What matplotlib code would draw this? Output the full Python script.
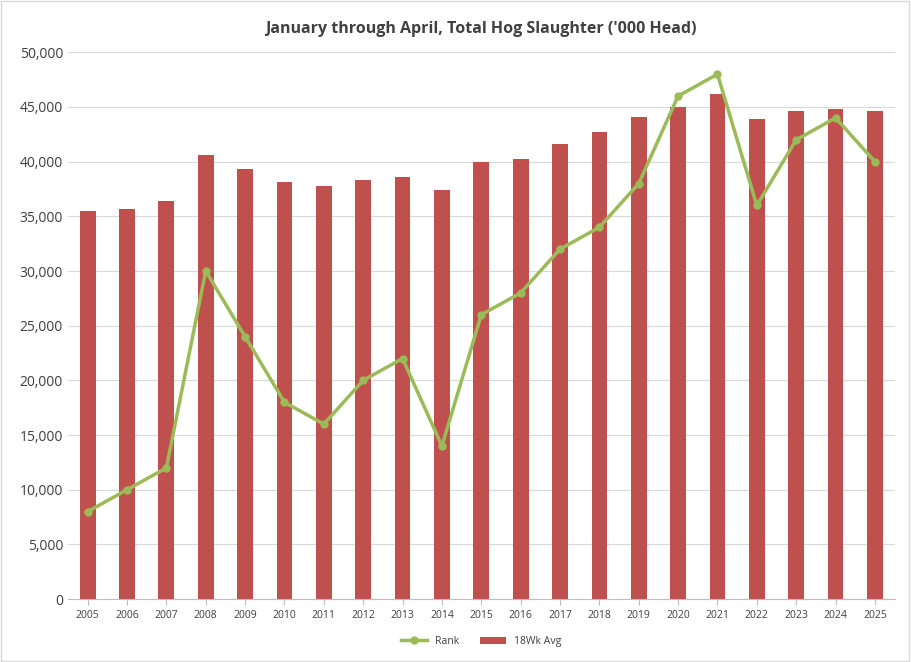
import matplotlib
matplotlib.use("Agg")
import matplotlib.pyplot as plt
from matplotlib.patches import Rectangle

years = [str(y) for y in range(2005, 2026)]
avg18 = [35500, 35700, 36400, 40600, 39300, 38100, 37800, 38300, 38600, 37400,
         40000, 40200, 41600, 42700, 44100, 45000, 46200, 43900, 44600, 44800, 44600]
rank = [8000, 10000, 12000, 30000, 24000, 18000, 16000, 20000, 22000, 14000,
        26000, 28000, 32000, 34000, 38000, 46000, 48000, 36000, 42000, 44000, 40000]

plt.rcParams["font.family"] = "Open Sans"
fig = plt.figure(figsize=(9.11, 6.62), dpi=100)
ax = fig.add_axes([0.0746, 0.095, 0.9074, 0.826])
x = range(len(years))
ax.bar(x, avg18, width=0.4, color="#C0504D", label="18Wk Avg", zorder=2)
ax.plot(x, rank, color="#9BBB59", lw=2.5, marker="o", ms=5, label="Rank", zorder=3)
ax.set_xlim(-0.5, len(years) - 0.5)
ax.set_ylim(0, 50000)
ax.set_yticks(range(0, 50001, 5000))
ax.set_yticklabels([f"{v:,}" for v in range(0, 50001, 5000)], fontsize=10, color="#404040")
ax.set_xticks(list(x))
ax.set_xticklabels(years, fontsize=7.5, color="#404040")
ax.grid(axis="y", color="#D9D9D9", lw=0.8, zorder=0)
for s in ["top", "right", "left"]:
    ax.spines[s].set_visible(False)
ax.spines["bottom"].set_color("#BFBFBF")
ax.tick_params(length=0)
ax.tick_params(axis="x", length=4, color="#BFBFBF")
ax.set_title("January through April, Total Hog Slaughter ('000 Head)", fontsize=11.5,
             fontweight="bold", color="#404040", pad=14)
ax.legend(loc="upper center", bbox_to_anchor=(0.5, -0.05), ncol=2, frameon=False,
          fontsize=7.5, labelcolor="#404040", handlelength=2.5)
fig.patches.append(Rectangle((0.001, 0.001), 0.997, 0.997, transform=fig.transFigure,
                             fill=False, edgecolor="#D9D9D9", lw=1))
fig.savefig("out.png", dpi=100)
